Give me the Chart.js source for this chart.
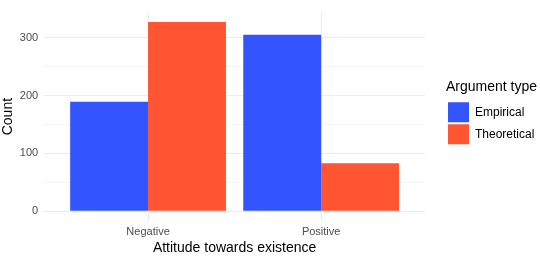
<!DOCTYPE html>
<html>
<head>
<meta charset="utf-8">
<script src="https://cdn.jsdelivr.net/npm/chart.js@4"></script>
<style>
  html, body { margin: 0; padding: 0; background: #fff; }
  #wrap { width: 540px; height: 257px; }
</style>
</head>
<body>
<div id="wrap"><canvas id="chart"></canvas></div>
<script>
const categories = ['Negative', 'Positive'];
const seriesNames = ['Empirical', 'Theoretical'];
const empirical = [189, 305];
const theoretical = [327, 83];
const yTicks = [0, 50, 100, 150, 200, 250, 300];
const yMajor = [0, 100, 200, 300];

const FONT = "'Liberation Sans', Arial, sans-serif";

function points(vals) {
    return vals.map((v, i) => ({ x: i + 1, y: v }));
}

const ctx = document.getElementById('chart').getContext('2d');
new Chart(ctx, {
    type: 'bar',
    data: {
        datasets: [
            { label: seriesNames[0], data: points(empirical), backgroundColor: '#3355FF', borderWidth: 0 },
            { label: seriesNames[1], data: points(theoretical), backgroundColor: '#FF5533', borderWidth: 0 }
        ]
    },
    options: {
        responsive: true,
        maintainAspectRatio: false,
        animation: false,
        layout: { padding: { top: 2.4, right: 0, bottom: 0, left: 0 } },
        datasets: { bar: { categoryPercentage: 0.9, barPercentage: 1.0 } },
        scales: {
            x: {
                type: 'linear',
                min: 0.4,
                max: 2.6,
                offset: false,
                afterBuildTicks: s => { s.ticks = categories.map((c, i) => ({ value: i + 1 })); },
                afterFit: s => { s.height = 36.4; },
                grid: { offset: false, color: '#EBEBEB', lineWidth: 1, drawTicks: false },
                border: { display: false },
                ticks: {
                    padding: 5,
                    color: '#4D4D4D',
                    font: { family: FONT, size: 11 },
                    callback: v => categories[v - 1]
                },
                title: {
                    display: true,
                    text: 'Attitude towards existence',
                    color: '#000',
                    font: { family: FONT, size: 14 },
                    padding: { top: 0, bottom: 0 }
                }
            },
            y: {
                min: -16.35,
                max: 343.35,
                afterBuildTicks: s => { s.ticks = yTicks.map(v => ({ value: v })); },
                afterFit: s => { s.width = 44.2; },
                grid: {
                    drawTicks: false,
                    color: c => yMajor.includes(c.tick.value) ? '#EBEBEB' : '#F4F4F4',
                    lineWidth: 1
                },
                border: { display: false },
                ticks: {
                    padding: 6,
                    color: '#4D4D4D',
                    font: { family: FONT, size: 11 },
                    callback: v => yMajor.includes(v) ? String(v) : ''
                },
                title: {
                    display: true,
                    text: 'Count',
                    color: '#000',
                    font: { family: FONT, size: 14 },
                    padding: { top: 0, bottom: 0 }
                }
            },
            // empty spacer between the plot panel and the legend
            gap: {
                position: 'right',
                display: true,
                afterFit: s => { s.width = 21; },
                grid: { display: false },
                border: { display: false },
                ticks: { display: false }
            }
        },
        plugins: {
            tooltip: { enabled: false },
            legend: {
                position: 'right',
                fullSize: false,
                maxWidth: 94,
                title: {
                    display: true,
                    text: 'Argument type',
                    position: 'start',
                    color: '#000',
                    font: { family: FONT, size: 14 },
                    padding: { top: -7, bottom: 3.6 }
                },
                labels: {
                    boxWidth: 21,
                    boxHeight: 20,
                    padding: 2,
                    color: '#000',
                    font: { family: FONT, size: 12 }
                }
            }
        }
    }
});
</script>
</body>
</html>
